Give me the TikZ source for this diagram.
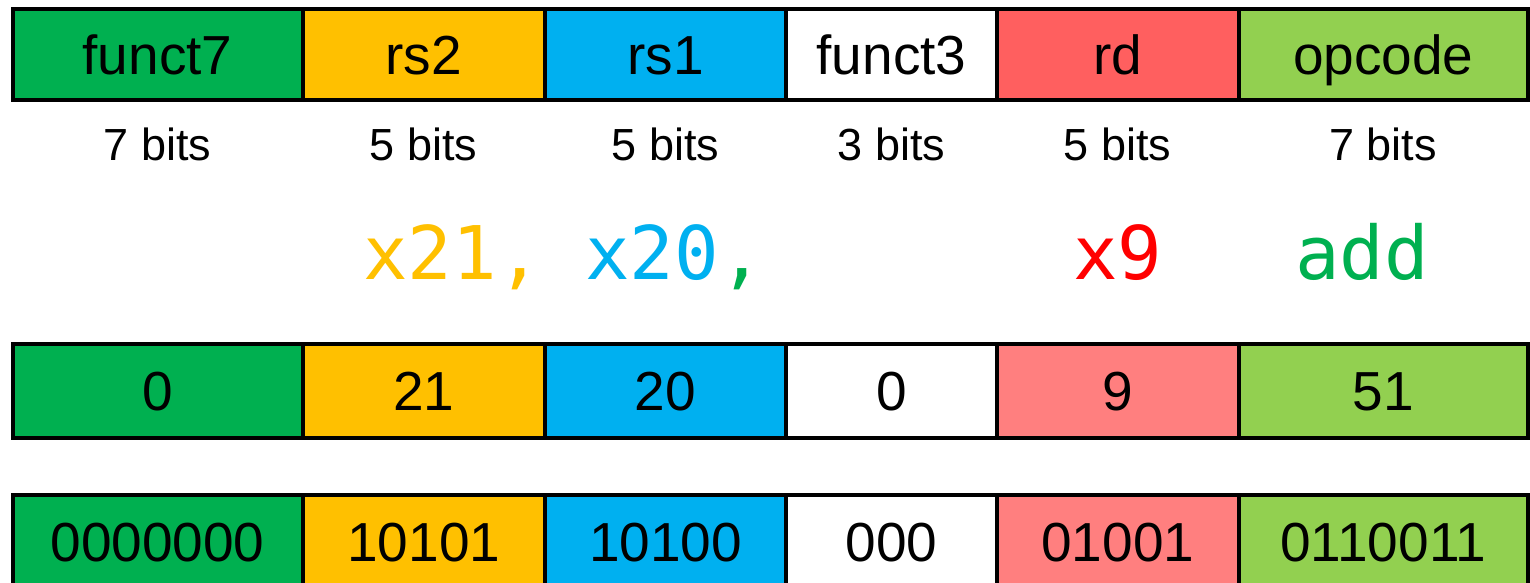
\documentclass[tikz,border=0pt]{standalone}
\usepackage{fontspec}
\setmainfont{Liberation Sans}
\newfontfamily\asmfont{DejaVu Sans Mono}
\definecolor{fgreen}{HTML}{00B050}
\definecolor{fyellow}{HTML}{FFC000}
\definecolor{fblue}{HTML}{00B0F0}
\definecolor{fredtop}{HTML}{FF5F5F}
\definecolor{fredlow}{HTML}{FF7F7F}
\definecolor{flime}{HTML}{92D050}
\definecolor{asmred}{HTML}{FF0000}
\begin{document}
\begin{tikzpicture}[x=0.5pt,y=-0.5pt,
  field/.style={draw=black, line width=2pt, inner sep=0pt,
    font=\fontsize{27.5}{30}\selectfont, text height=19.7pt, text depth=0pt},
  toprow/.style={field, minimum height=45.75pt},
  midrow/.style={field, minimum height=46.75pt},
  lowrow/.style={field, minimum height=47pt},
  bitslabel/.style={font=\fontsize{22.5}{25}\selectfont, anchor=base, inner sep=0pt},
  asm/.style={font=\asmfont\fontsize{37}{40}\selectfont, anchor=base west, inner sep=0pt}]
\clip (0,0) rectangle (1530,583);

% field names
\node[toprow, fill=fgreen,  minimum width=145pt]    (f7)  at (157.5,54.75)   {funct7};
\node[toprow, fill=fyellow, minimum width=121.25pt] (rs2) at (423.75,54.75)  {rs2};
\node[toprow, fill=fblue,   minimum width=120.5pt]  (rs1) at (665.5,54.75)   {rs1};
\node[toprow, fill=white,   minimum width=105.5pt]  (f3)  at (891.5,54.75)   {funct3};
\node[toprow, fill=fredtop, minimum width=120.75pt] (rd)  at (1117.75,54.75) {rd};
\node[toprow, fill=flime,   minimum width=144.75pt] (op)  at (1383.25,54.75) {opcode};

% field widths
\node[bitslabel] (b7)   at (157.5,160)   {7 bits};
\node[bitslabel] (brs2) at (423.75,160)  {5 bits};
\node[bitslabel] (brs1) at (665.5,160)   {5 bits};
\node[bitslabel] (b3)   at (891.5,160)   {3 bits};
\node[bitslabel] (brd)  at (1117.75,160) {5 bits};
\node[bitslabel] (bop)  at (1383.25,160) {7 bits};

% assembly operands
\node[asm] (ars2) at (363,279)  {\textcolor{fyellow}{x21,}};
\node[asm] (ars1) at (585,279)  {\textcolor{fblue}{x20}\textcolor{fgreen}{,}};
\node[asm] (ard)  at (1073,279) {\textcolor{asmred}{x9}};
\node[asm] (aop)  at (1295,279) {\textcolor{fgreen}{add}};

% decimal values
\node[midrow, fill=fgreen,  minimum width=145pt]    (d7)   at (157.5,390.75)   {0};
\node[midrow, fill=fyellow, minimum width=121.25pt] (drs2) at (423.75,390.75)  {21};
\node[midrow, fill=fblue,   minimum width=120.5pt]  (drs1) at (665.5,390.75)   {20};
\node[midrow, fill=white,   minimum width=105.5pt]  (d3)   at (891.5,390.75)   {0};
\node[midrow, fill=fredlow, minimum width=120.75pt] (drd)  at (1117.75,390.75) {9};
\node[midrow, fill=flime,   minimum width=144.75pt] (dop)  at (1383.25,390.75) {51};

% binary values
\node[lowrow, fill=fgreen,  minimum width=145pt]    (n7)   at (157.5,542)   {0000000};
\node[lowrow, fill=fyellow, minimum width=121.25pt] (nrs2) at (423.75,542)  {10101};
\node[lowrow, fill=fblue,   minimum width=120.5pt]  (nrs1) at (665.5,542)   {10100};
\node[lowrow, fill=white,   minimum width=105.5pt]  (n3)   at (891.5,542)   {000};
\node[lowrow, fill=fredlow, minimum width=120.75pt] (nrd)  at (1117.75,542) {01001};
\node[lowrow, fill=flime,   minimum width=144.75pt] (nop)  at (1383.25,542) {0110011};
\end{tikzpicture}
\end{document}
